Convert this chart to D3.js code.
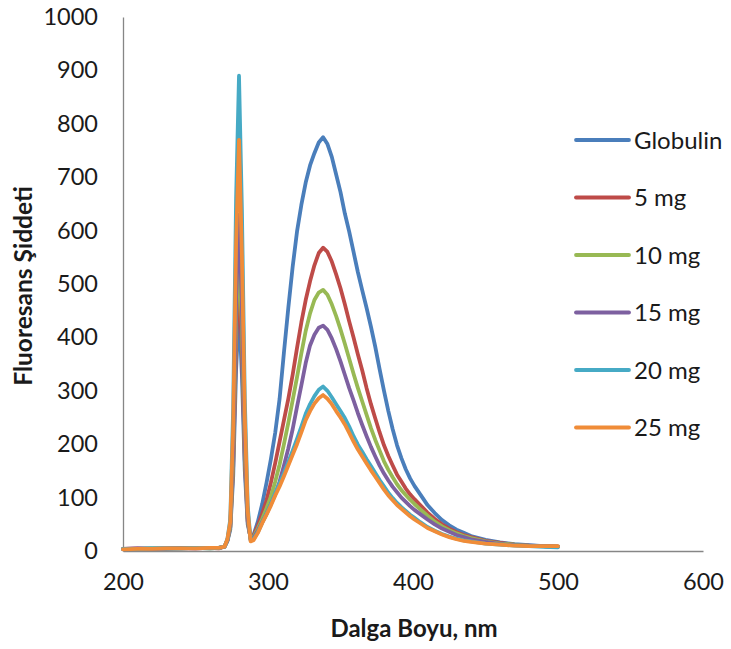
<!DOCTYPE html>
<html>
<head>
<meta charset="utf-8">
<script src="https://cdn.jsdelivr.net/npm/d3@7"></script>
<style>
  html, body { margin: 0; padding: 0; background: #ffffff; }
  svg { display: block; }
  text { font-family: Lato, "Open Sans", sans-serif; fill: #1a1a1a; }
</style>
</head>
<body>
<svg id="chart" width="731" height="649"></svg>
<script>
// ---- data ----
const wavelengths = [200,210,220,230,240,250,260,266,270,272,274,276,278,280,282,284,286,288,290,
  293,296,299,302,305,308,311,314,317,320,323,326,329,332,335,338,341,344,347,350,353,356,359,362,365,368,371,374,377,380,383,386,389,392,395,398,401,
  405,410,415,420,425,430,435,440,450,460,470,480,490,500];

const seriesNames = ["Globulin", "5 mg", "10 mg", "15 mg", "20 mg", "25 mg"];

const globulin = [3,4,5,4,5,6,5,6,8,18,40,140,340,450,330,150,50,25,30,
  55,88,128,172,222,285,372,455,532,598,648,690,722,745,765,775,762,738,705,672,632,598,560,522,488,455,420,382,340,300,262,228,198,174,153,136,122,
  106,86,71,58,48,40,34,28,21,16,13,11,9,8];
const mg5 = [4,5,4,5,6,5,6,5,8,20,45,160,390,520,380,170,55,24,28,
  48,70,95,128,165,205,245,285,330,380,428,470,505,535,558,568,560,542,518,492,462,430,400,368,338,305,275,248,222,198,178,160,143,130,117,106,97,
  86,72,60,50,42,35,30,26,19,15,12,10,9,8];
const mg10 = [4,4,5,5,5,6,5,6,8,20,45,170,430,570,420,185,58,22,26,
  42,60,80,102,130,162,200,240,282,325,370,412,445,470,484,489,480,462,440,415,388,360,332,305,280,255,230,208,188,168,152,138,125,114,105,96,88,
  78,66,55,46,39,33,28,24,18,14,12,10,9,8];
const mg15 = [4,5,4,5,5,5,6,6,8,20,50,190,470,630,460,205,62,21,24,
  38,54,70,88,106,130,160,192,228,270,310,352,385,405,418,422,414,398,378,355,330,305,282,258,236,215,195,177,160,145,132,120,110,100,92,84,77,
  69,59,50,42,36,30,26,22,17,13,11,10,9,8];
const mg20 = [4,4,5,5,5,6,6,6,8,22,60,270,660,890,640,285,85,20,22,
  35,53,70,88,108,127,146,167,188,210,233,257,275,290,302,308,300,288,275,262,249,233,215,199,186,172,159,146,133,121,109,99,90,82,75,68,62,
  54,45,38,32,27,23,20,18,14,12,10,9,8,7];
const mg25 = [3,4,4,5,5,5,6,6,8,22,55,235,575,770,555,250,75,18,20,
  34,52,68,85,104,121,140,160,180,200,222,245,262,276,286,292,285,275,262,250,237,221,205,190,177,164,151,139,127,115,104,95,86,79,72,65,59,
  52,43,37,31,26,22,19,17,14,12,10,9,9,9];

const seriesValues = [globulin, mg5, mg10, mg15, mg20, mg25];
const seriesColors = ["#4A7EBB", "#BE4B48", "#98B954", "#7D60A0", "#46AAC5", "#F08C38"];

const xTicks = [200, 300, 400, 500, 600];
const yTicks = [0, 100, 200, 300, 400, 500, 600, 700, 800, 900, 1000];
const xTitle = "Dalga Boyu, nm";
const yTitle = "Fluoresans Şiddeti";

// ---- layout ----
const svg = d3.select("#chart");
const x = d3.scaleLinear().domain([200, 600]).range([123, 703]);
const y = d3.scaleLinear().domain([0, 1000]).range([551, 17]);

const axisColor = "#868686";
const yAxis = d3.axisLeft(y).tickValues(yTicks).tickSize(0).tickPadding(25).tickFormat(d3.format("d"));
const gy = svg.append("g").attr("transform", `translate(${x(200)},0)`).call(yAxis);
gy.select(".domain").attr("stroke", axisColor).attr("stroke-width", 1.3);
gy.selectAll("text").attr("font-size", 23.5).attr("font-family", "Lato, sans-serif").attr("fill", "#1a1a1a");

const xAxis = d3.axisBottom(x).tickValues(xTicks).tickSize(0).tickPadding(22).tickFormat(d3.format("d"));
const gx = svg.append("g").attr("transform", `translate(0,${y(0)})`).call(xAxis);
gx.select(".domain").attr("stroke", axisColor).attr("stroke-width", 1.3);
gx.selectAll("text").attr("font-size", 23.5).attr("font-family", "Lato, sans-serif").attr("fill", "#1a1a1a");

// titles
svg.append("text").attr("x", 414).attr("y", 637).attr("text-anchor", "middle")
  .attr("font-size", 24).attr("font-weight", "bold").text(xTitle);
svg.append("text").attr("transform", "translate(32,286) rotate(-90)").attr("text-anchor", "middle")
  .attr("font-size", 24.5).attr("font-weight", "bold").text(yTitle);

// lines
const line = d3.line()
  .x((d, i) => x(wavelengths[i]))
  .y(d => y(d))
  .curve(d3.curveLinear);

const plot = svg.append("g");
seriesValues.forEach((vals, k) => {
  plot.append("path")
    .datum(vals)
    .attr("d", line)
    .attr("fill", "none")
    .attr("stroke", seriesColors[k])
    .attr("stroke-width", 3.8)
    .attr("stroke-linejoin", "round")
    .attr("stroke-linecap", "round");
});

// legend
const legend = svg.append("g");
seriesNames.forEach((name, k) => {
  const ly = 140 + k * 57.5;
  legend.append("line")
    .attr("x1", 576).attr("x2", 629).attr("y1", ly).attr("y2", ly)
    .attr("stroke", seriesColors[k]).attr("stroke-width", 3.8).attr("stroke-linecap", "round");
  legend.append("text").attr("x", 634).attr("y", ly).attr("dy", "0.36em")
    .attr("font-size", 24).text(name);
});
</script>
</body>
</html>
